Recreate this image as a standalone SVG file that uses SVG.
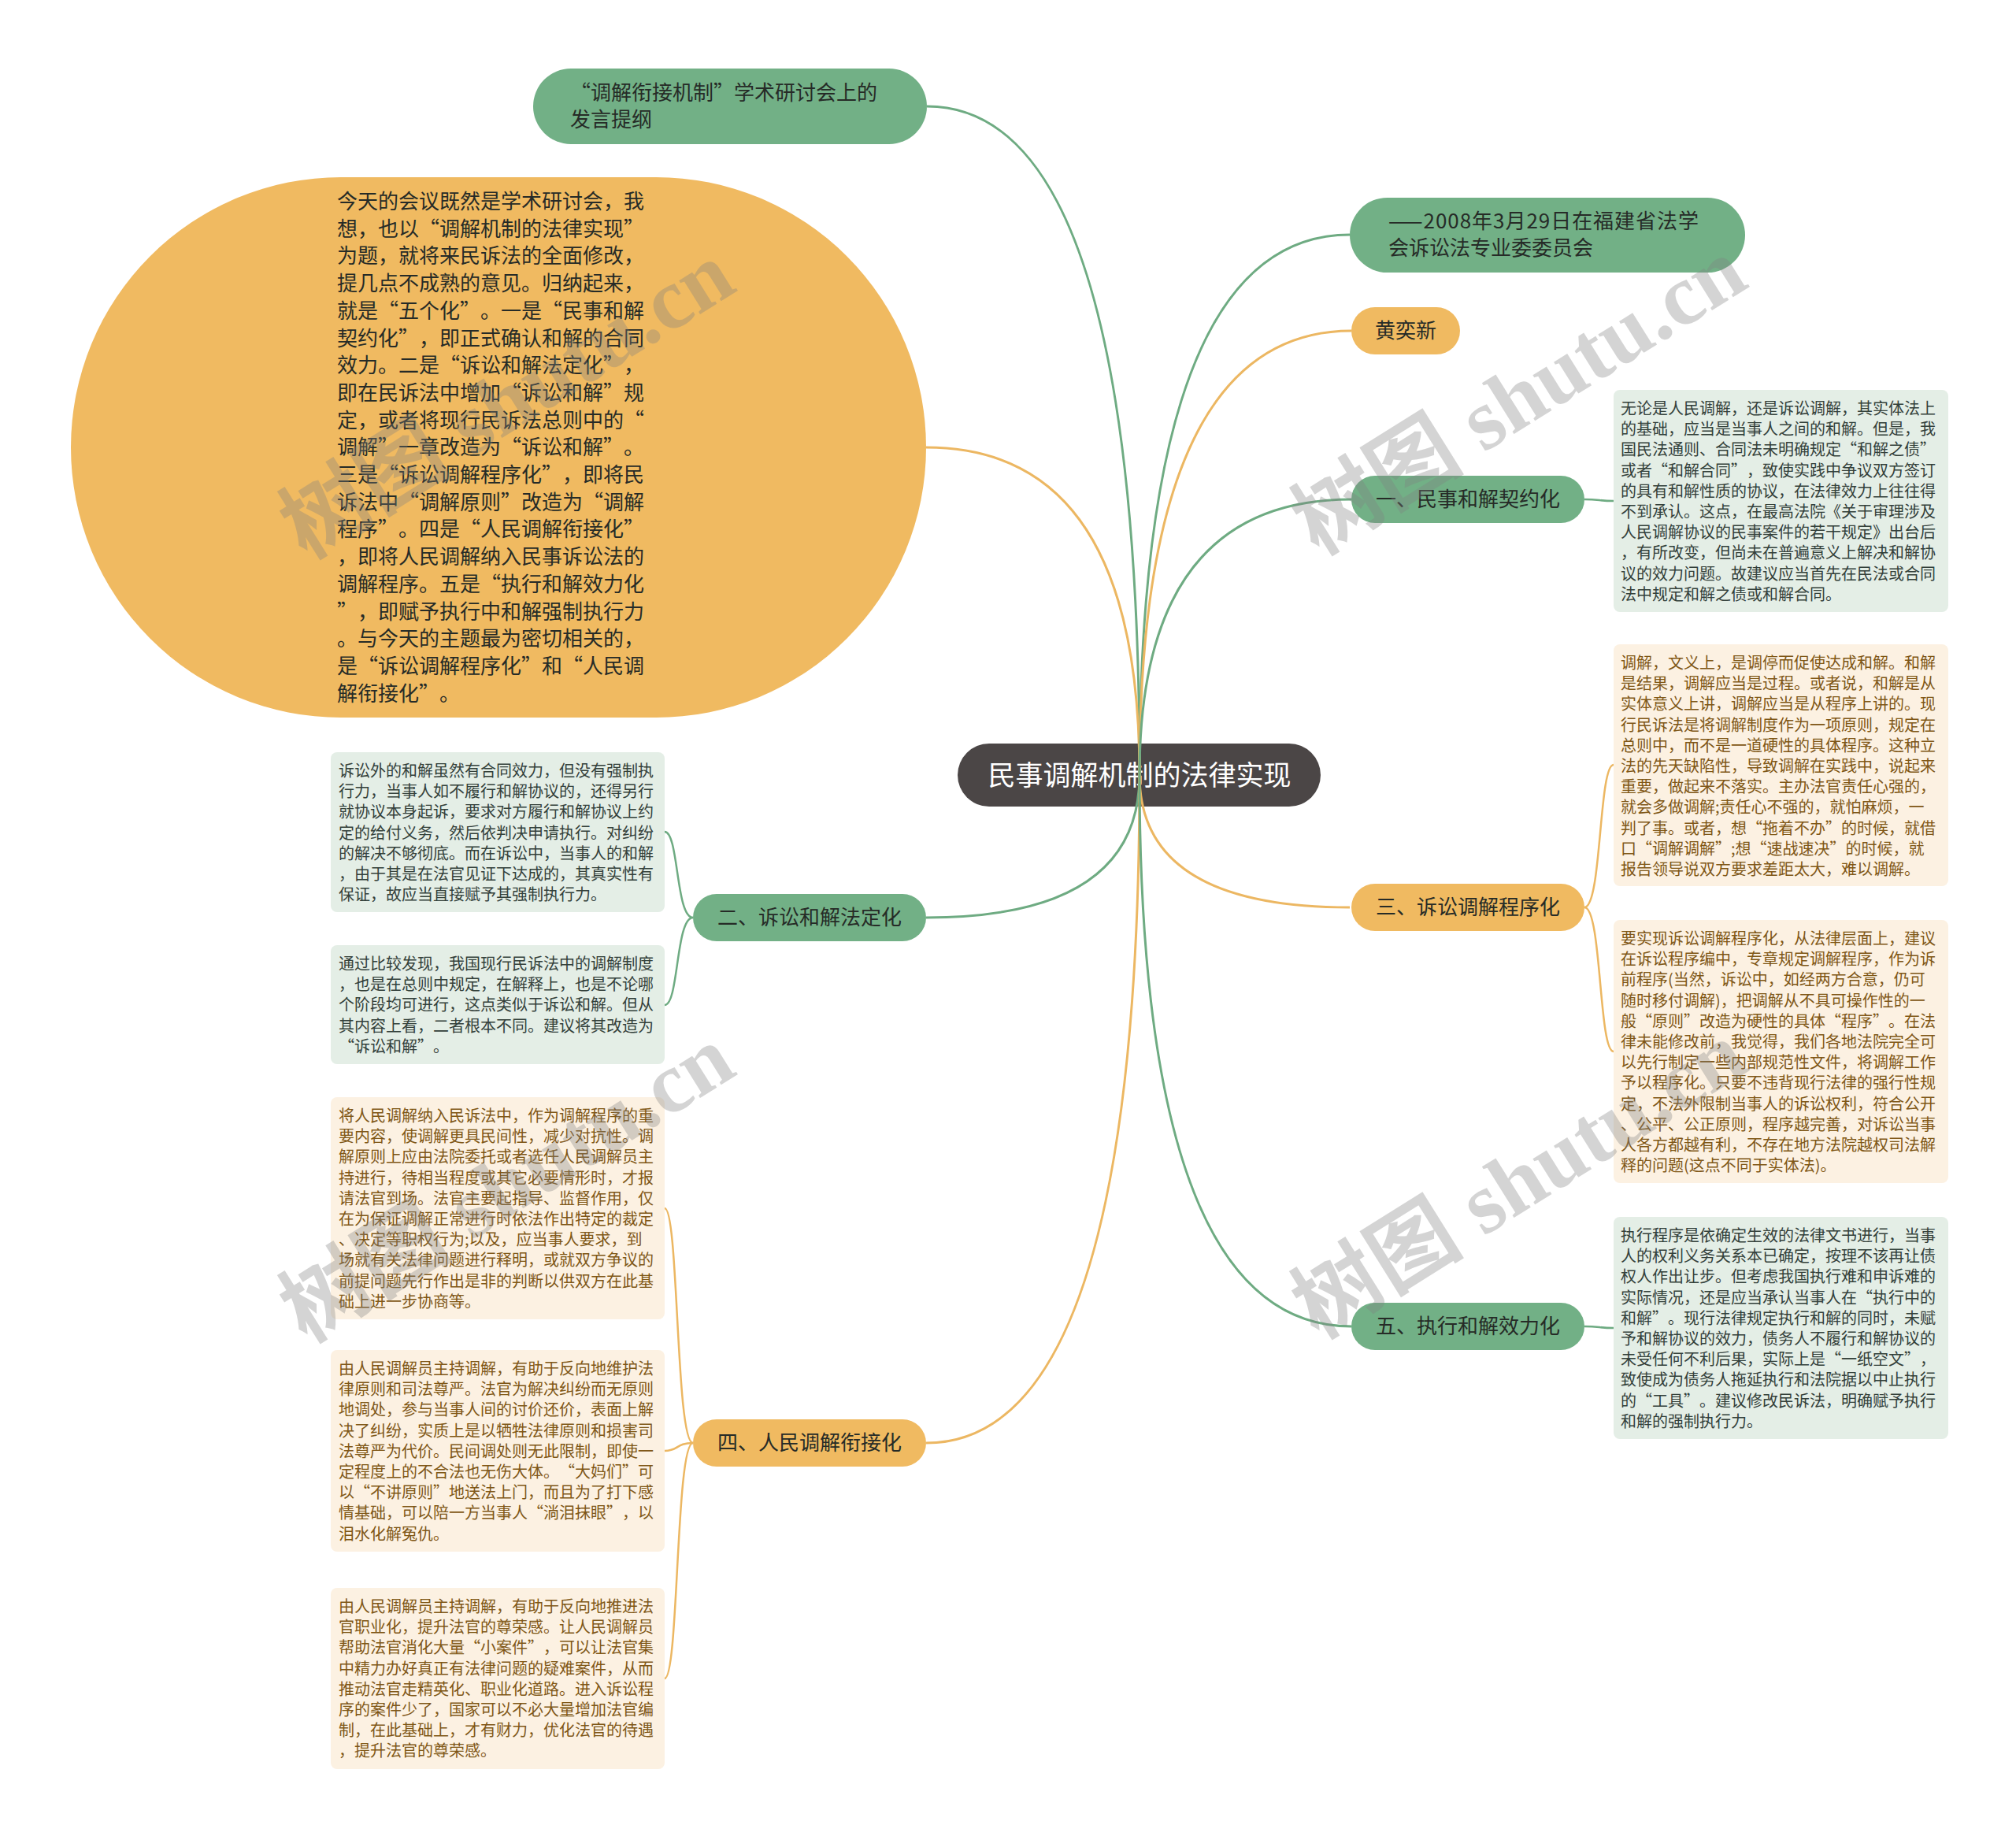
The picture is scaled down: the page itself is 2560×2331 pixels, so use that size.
<svg xmlns="http://www.w3.org/2000/svg" width="2560" height="2331" viewBox="0 0 2560 2331">
<defs>
<style>
.bgc{fill:#ffffff}
.ng{fill:#72b086}
.no{fill:#f0ba61}
.nr{fill:#4b4646}
.bg{fill:#e4eee6}
.bo{fill:#fcf1e2}
.t{font-family:"Noto Sans CJK SC","Noto Sans",sans-serif;text-spacing-trim:space-all;font-kerning:none}
.t26{font-size:26px;fill:#262b27}
.tr{font-size:35px;fill:#ffffff}
.tb{font-size:20px}
.tgb{fill:#33403a}
.tob{fill:#7f5716}
.lg{fill:none;stroke:#6eab82;stroke-width:3}
.lo{fill:none;stroke:#ecb762;stroke-width:3}
.wm{font-family:"Liberation Serif","Noto Sans CJK SC",serif;font-weight:bold;font-size:110px;fill:#808080;opacity:0.33}
</style>
</defs>
<rect class="bgc" x="0" y="0" width="2560" height="2331"/>

<g id="root">
<rect class="nr" x="1216" y="944" width="461" height="80" rx="40"/>
<text class="t tr" x="1447" y="997" text-anchor="middle">民事调解机制的法律实现</text>
</g>

<g id="connectors">
<path class="lg" d="M1447 984 Q1447 135 1177 135"/>
<path class="lo" d="M1447 984 Q1447 568 1176 568"/>
<path class="lg" d="M1447 984 Q1447 1165 1176 1165"/>
<path class="lo" d="M1447 984 Q1447 1832 1176 1832"/>
<path class="lg" d="M1447 984 Q1447 298 1714 298"/>
<path class="lo" d="M1447 984 Q1447 420 1716 420"/>
<path class="lg" d="M1447 984 Q1447 634 1716 634"/>
<path class="lo" d="M1447 984 Q1447 1152 1714 1152"/>
<path class="lg" d="M1447 984 Q1447 1684 1716 1684"/>
<path class="lg" d="M2012 634 C2031 634 2031 636 2049 636" style="stroke-width:2.5"/>
<path class="lg" d="M2012 1684 C2031 1684 2031 1686 2049 1686" style="stroke-width:2.5"/>
<path class="lo" d="M2012 1152 C2034 1152 2030 971 2049 971" style="stroke-width:2.5"/>
<path class="lo" d="M2012 1152 C2034 1152 2030 1335 2049 1335" style="stroke-width:2.5"/>
<path class="lg" d="M880 1165 C858 1165 862 1056 844 1056" style="stroke-width:2.5"/>
<path class="lg" d="M880 1165 C858 1165 862 1276 844 1276" style="stroke-width:2.5"/>
<path class="lo" d="M880 1832 C858 1832 862 1534 844 1534" style="stroke-width:2.5"/>
<path class="lo" d="M880 1832 C858 1832 862 1842 844 1842" style="stroke-width:2.5"/>
<path class="lo" d="M880 1832 C858 1832 862 2131 844 2131" style="stroke-width:2.5"/>
</g>

<g id="node-title">
<rect class="ng" x="677" y="87" width="500" height="96" rx="48"/>
<text class="t t26" x="724" y="127">“调解衔接机制”学术研讨会上的</text>
<text class="t t26" x="724" y="161">发言提纲</text>
</g>

<g id="node-intro">
<rect class="no" x="90" y="225" width="1086" height="686" rx="343"/>
<text class="t t26" x="428" y="265">
<tspan x="428" dy="0">今天的会议既然是学术研讨会，我</tspan>
<tspan x="428" dy="34.7">想，也以“调解机制的法律实现”</tspan>
<tspan x="428" dy="34.7">为题，就将来民诉法的全面修改，</tspan>
<tspan x="428" dy="34.7">提几点不成熟的意见。归纳起来，</tspan>
<tspan x="428" dy="34.7">就是“五个化”。一是“民事和解</tspan>
<tspan x="428" dy="34.7">契约化”，即正式确认和解的合同</tspan>
<tspan x="428" dy="34.7">效力。二是“诉讼和解法定化”，</tspan>
<tspan x="428" dy="34.7">即在民诉法中增加“诉讼和解”规</tspan>
<tspan x="428" dy="34.7">定，或者将现行民诉法总则中的“</tspan>
<tspan x="428" dy="34.7">调解”一章改造为“诉讼和解”。</tspan>
<tspan x="428" dy="34.7">三是“诉讼调解程序化”，即将民</tspan>
<tspan x="428" dy="34.7">诉法中“调解原则”改造为“调解</tspan>
<tspan x="428" dy="34.7">程序”。四是“人民调解衔接化”</tspan>
<tspan x="428" dy="34.7">，即将人民调解纳入民事诉讼法的</tspan>
<tspan x="428" dy="34.7">调解程序。五是“执行和解效力化</tspan>
<tspan x="428" dy="34.7">”，即赋予执行中和解强制执行力</tspan>
<tspan x="428" dy="34.7">。与今天的主题最为密切相关的，</tspan>
<tspan x="428" dy="34.7">是“诉讼调解程序化”和“人民调</tspan>
<tspan x="428" dy="34.7">解衔接化”。</tspan>
</text>
</g>

<g id="node-date">
<rect class="ng" x="1714" y="251" width="502" height="95" rx="47.5"/>
<text class="t t26" x="1763" y="290" textLength="394" lengthAdjust="spacing">——2008年3月29日在福建省法学</text>
<text class="t t26" x="1763" y="324">会诉讼法专业委委员会</text>
</g>

<g id="node-author">
<rect class="no" x="1716" y="390" width="138" height="60" rx="30"/>
<text class="t t26" x="1785" y="429" text-anchor="middle">黄奕新</text>
</g>

<g id="node-1">
<rect class="ng" x="1716" y="604" width="296" height="60" rx="30"/>
<text class="t t26" x="1864" y="643" text-anchor="middle">一、民事和解契约化</text>
</g>

<g id="box-1">
<rect class="bg" x="2049" y="495" width="425" height="282" rx="8"/>
<text class="t tb tgb" x="2058" y="526">
<tspan x="2058" dy="0">无论是人民调解，还是诉讼调解，其实体法上</tspan>
<tspan x="2058" dy="26.2">的基础，应当是当事人之间的和解。但是，我</tspan>
<tspan x="2058" dy="26.2">国民法通则、合同法未明确规定“和解之债”</tspan>
<tspan x="2058" dy="26.2">或者“和解合同”，致使实践中争议双方签订</tspan>
<tspan x="2058" dy="26.2">的具有和解性质的协议，在法律效力上往往得</tspan>
<tspan x="2058" dy="26.2">不到承认。这点，在最高法院《关于审理涉及</tspan>
<tspan x="2058" dy="26.2">人民调解协议的民事案件的若干规定》出台后</tspan>
<tspan x="2058" dy="26.2">，有所改变，但尚未在普遍意义上解决和解协</tspan>
<tspan x="2058" dy="26.2">议的效力问题。故建议应当首先在民法或合同</tspan>
<tspan x="2058" dy="26.2">法中规定和解之债或和解合同。</tspan>
</text>
</g>

<g id="node-3">
<rect class="no" x="1716" y="1122" width="296" height="60" rx="30"/>
<text class="t t26" x="1864" y="1161" text-anchor="middle">三、诉讼调解程序化</text>
</g>

<g id="box-3a">
<rect class="bo" x="2049" y="818" width="425" height="307" rx="8"/>
<text class="t tb tob" x="2058" y="849">
<tspan x="2058" dy="0">调解，文义上，是调停而促使达成和解。和解</tspan>
<tspan x="2058" dy="26.2">是结果，调解应当是过程。或者说，和解是从</tspan>
<tspan x="2058" dy="26.2">实体意义上讲，调解应当是从程序上讲的。现</tspan>
<tspan x="2058" dy="26.2">行民诉法是将调解制度作为一项原则，规定在</tspan>
<tspan x="2058" dy="26.2">总则中，而不是一道硬性的具体程序。这种立</tspan>
<tspan x="2058" dy="26.2">法的先天缺陷性，导致调解在实践中，说起来</tspan>
<tspan x="2058" dy="26.2">重要，做起来不落实。主办法官责任心强的，</tspan>
<tspan x="2058" dy="26.2">就会多做调解;责任心不强的，就怕麻烦，一</tspan>
<tspan x="2058" dy="26.2">判了事。或者，想“拖着不办”的时候，就借</tspan>
<tspan x="2058" dy="26.2">口“调解调解”;想“速战速决”的时候，就</tspan>
<tspan x="2058" dy="26.2">报告领导说双方要求差距太大，难以调解。</tspan>
</text>
</g>

<g id="box-3b">
<rect class="bo" x="2049" y="1168" width="425" height="334" rx="8"/>
<text class="t tb tob" x="2058" y="1199">
<tspan x="2058" dy="0">要实现诉讼调解程序化，从法律层面上，建议</tspan>
<tspan x="2058" dy="26.2">在诉讼程序编中，专章规定调解程序，作为诉</tspan>
<tspan x="2058" dy="26.2">前程序(当然，诉讼中，如经两方合意，仍可</tspan>
<tspan x="2058" dy="26.2">随时移付调解)，把调解从不具可操作性的一</tspan>
<tspan x="2058" dy="26.2">般“原则”改造为硬性的具体“程序”。在法</tspan>
<tspan x="2058" dy="26.2">律未能修改前，我觉得，我们各地法院完全可</tspan>
<tspan x="2058" dy="26.2">以先行制定一些内部规范性文件，将调解工作</tspan>
<tspan x="2058" dy="26.2">予以程序化。只要不违背现行法律的强行性规</tspan>
<tspan x="2058" dy="26.2">定，不法外限制当事人的诉讼权利，符合公开</tspan>
<tspan x="2058" dy="26.2">、公平、公正原则，程序越完善，对诉讼当事</tspan>
<tspan x="2058" dy="26.2">人各方都越有利，不存在地方法院越权司法解</tspan>
<tspan x="2058" dy="26.2">释的问题(这点不同于实体法)。</tspan>
</text>
</g>

<g id="node-5">
<rect class="ng" x="1716" y="1654" width="296" height="60" rx="30"/>
<text class="t t26" x="1864" y="1693" text-anchor="middle">五、执行和解效力化</text>
</g>

<g id="box-5">
<rect class="bg" x="2049" y="1545" width="425" height="282" rx="8"/>
<text class="t tb tgb" x="2058" y="1576">
<tspan x="2058" dy="0">执行程序是依确定生效的法律文书进行，当事</tspan>
<tspan x="2058" dy="26.2">人的权利义务关系本已确定，按理不该再让债</tspan>
<tspan x="2058" dy="26.2">权人作出让步。但考虑我国执行难和申诉难的</tspan>
<tspan x="2058" dy="26.2">实际情况，还是应当承认当事人在“执行中的</tspan>
<tspan x="2058" dy="26.2">和解”。现行法律规定执行和解的同时，未赋</tspan>
<tspan x="2058" dy="26.2">予和解协议的效力，债务人不履行和解协议的</tspan>
<tspan x="2058" dy="26.2">未受任何不利后果，实际上是“一纸空文”，</tspan>
<tspan x="2058" dy="26.2">致使成为债务人拖延执行和法院据以中止执行</tspan>
<tspan x="2058" dy="26.2">的“工具”。建议修改民诉法，明确赋予执行</tspan>
<tspan x="2058" dy="26.2">和解的强制执行力。</tspan>
</text>
</g>

<g id="node-2">
<rect class="ng" x="880" y="1135" width="296" height="60" rx="30"/>
<text class="t t26" x="1028" y="1174" text-anchor="middle">二、诉讼和解法定化</text>
</g>

<g id="box-2a">
<rect class="bg" x="420" y="955" width="424" height="203" rx="8"/>
<text class="t tb tgb" x="430" y="986">
<tspan x="430" dy="0">诉讼外的和解虽然有合同效力，但没有强制执</tspan>
<tspan x="430" dy="26.2">行力，当事人如不履行和解协议的，还得另行</tspan>
<tspan x="430" dy="26.2">就协议本身起诉，要求对方履行和解协议上约</tspan>
<tspan x="430" dy="26.2">定的给付义务，然后依判决申请执行。对纠纷</tspan>
<tspan x="430" dy="26.2">的解决不够彻底。而在诉讼中，当事人的和解</tspan>
<tspan x="430" dy="26.2">，由于其是在法官见证下达成的，其真实性有</tspan>
<tspan x="430" dy="26.2">保证，故应当直接赋予其强制执行力。</tspan>
</text>
</g>

<g id="box-2b">
<rect class="bg" x="420" y="1200" width="424" height="151" rx="8"/>
<text class="t tb tgb" x="430" y="1231">
<tspan x="430" dy="0">通过比较发现，我国现行民诉法中的调解制度</tspan>
<tspan x="430" dy="26.2">，也是在总则中规定，在解释上，也是不论哪</tspan>
<tspan x="430" dy="26.2">个阶段均可进行，这点类似于诉讼和解。但从</tspan>
<tspan x="430" dy="26.2">其内容上看，二者根本不同。建议将其改造为</tspan>
<tspan x="430" dy="26.2">“诉讼和解”。</tspan>
</text>
</g>

<g id="node-4">
<rect class="no" x="880" y="1802" width="296" height="60" rx="30"/>
<text class="t t26" x="1028" y="1841" text-anchor="middle">四、人民调解衔接化</text>
</g>

<g id="box-4a">
<rect class="bo" x="420" y="1393" width="424" height="282" rx="8"/>
<text class="t tb tob" x="430" y="1424">
<tspan x="430" dy="0">将人民调解纳入民诉法中，作为调解程序的重</tspan>
<tspan x="430" dy="26.2">要内容，使调解更具民间性，减少对抗性。调</tspan>
<tspan x="430" dy="26.2">解原则上应由法院委托或者选任人民调解员主</tspan>
<tspan x="430" dy="26.2">持进行，待相当程度或其它必要情形时，才报</tspan>
<tspan x="430" dy="26.2">请法官到场。法官主要起指导、监督作用，仅</tspan>
<tspan x="430" dy="26.2">在为保证调解正常进行时依法作出特定的裁定</tspan>
<tspan x="430" dy="26.2">、决定等职权行为;以及，应当事人要求，到</tspan>
<tspan x="430" dy="26.2">场就有关法律问题进行释明，或就双方争议的</tspan>
<tspan x="430" dy="26.2">前提问题先行作出是非的判断以供双方在此基</tspan>
<tspan x="430" dy="26.2">础上进一步协商等。</tspan>
</text>
</g>

<g id="box-4b">
<rect class="bo" x="420" y="1714" width="424" height="256" rx="8"/>
<text class="t tb tob" x="430" y="1745">
<tspan x="430" dy="0">由人民调解员主持调解，有助于反向地维护法</tspan>
<tspan x="430" dy="26.2">律原则和司法尊严。法官为解决纠纷而无原则</tspan>
<tspan x="430" dy="26.2">地调处，参与当事人间的讨价还价，表面上解</tspan>
<tspan x="430" dy="26.2">决了纠纷，实质上是以牺牲法律原则和损害司</tspan>
<tspan x="430" dy="26.2">法尊严为代价。民间调处则无此限制，即使一</tspan>
<tspan x="430" dy="26.2">定程度上的不合法也无伤大体。“大妈们”可</tspan>
<tspan x="430" dy="26.2">以“不讲原则”地送法上门，而且为了打下感</tspan>
<tspan x="430" dy="26.2">情基础，可以陪一方当事人“淌泪抹眼”，以</tspan>
<tspan x="430" dy="26.2">泪水化解冤仇。</tspan>
</text>
</g>

<g id="box-4c">
<rect class="bo" x="420" y="2016" width="424" height="230" rx="8"/>
<text class="t tb tob" x="430" y="2047">
<tspan x="430" dy="0">由人民调解员主持调解，有助于反向地推进法</tspan>
<tspan x="430" dy="26.2">官职业化，提升法官的尊荣感。让人民调解员</tspan>
<tspan x="430" dy="26.2">帮助法官消化大量“小案件”，可以让法官集</tspan>
<tspan x="430" dy="26.2">中精力办好真正有法律问题的疑难案件，从而</tspan>
<tspan x="430" dy="26.2">推动法官走精英化、职业化道路。进入诉讼程</tspan>
<tspan x="430" dy="26.2">序的案件少了，国家可以不必大量增加法官编</tspan>
<tspan x="430" dy="26.2">制，在此基础上，才有财力，优化法官的待遇</tspan>
<tspan x="430" dy="26.2">，提升法官的尊荣感。</tspan>
</text>
</g>

<g id="watermarks">
<text class="wm" x="645" y="545" text-anchor="middle" transform="rotate(-32 645 510)">树图 shutu.cn</text>
<text class="wm" x="1930" y="540" text-anchor="middle" transform="rotate(-32 1930 505)">树图 shutu.cn</text>
<text class="wm" x="645" y="1540" text-anchor="middle" transform="rotate(-32 645 1505)">树图 shutu.cn</text>
<text class="wm" x="1930" y="1535" text-anchor="middle" transform="rotate(-32 1930 1500)">树图 shutu.cn</text>
</g>
</svg>
